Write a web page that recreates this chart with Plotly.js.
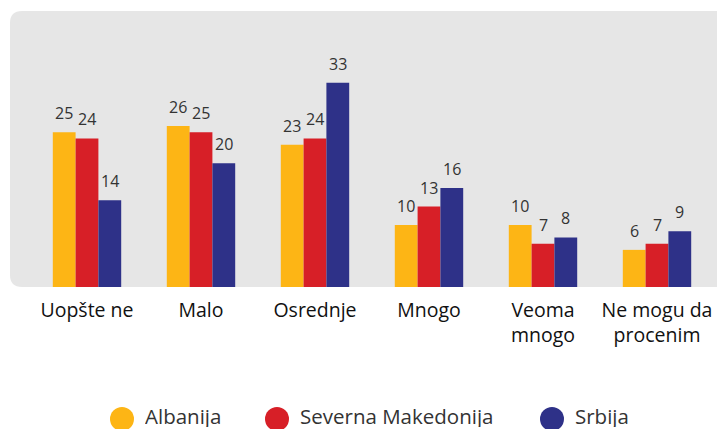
<!DOCTYPE html>
<html>
<head>
<meta charset="utf-8">
<script src="https://cdn.plot.ly/plotly-3.0.1.min.js"></script>
<style>html,body{margin:0;padding:0;background:#fff;}#chart{width:717px;height:429px;}</style>
</head>
<body>
<div id="chart"></div>
<script>
const categories = ["Uopšte ne", "Malo", "Osrednje", "Mnogo", "Veoma<br>mnogo", "Ne mogu da<br>procenim"];
const seriesNames = ["Albanija", "Severna Makedonija", "Srbija"];
const albanija = [25, 26, 23, 10, 10, 6];
const severnaMakedonija = [24, 25, 24, 13, 7, 7];
const srbija = [14, 20, 33, 16, 8, 9];
const colors = ["#FDB515", "#D71F27", "#2E3188"];

const FONT = "Open Sans, Lato, sans-serif";
const values = [albanija, severnaMakedonija, srbija];

const traces = values.map((v, i) => ({
  type: "bar",
  name: seriesNames[i],
  x: categories,
  y: v,
  marker: {color: colors[i]},
  showlegend: false,
  hoverinfo: "x+y+name"
}));

// Plot area in px: x 30..714, y 11..287
const pw = 684, ph = 276;
const barPx = pw / 6 * 0.6 / 3;
const x0 = -20 / pw, rx = 12 / pw, ry = 12 / ph;
const bgPath = `M ${x0 + rx},1 L 1.05,1 L 1.05,0 L ${x0 + rx},0 Q ${x0},0 ${x0},${ry} L ${x0},${1 - ry} Q ${x0},1 ${x0 + rx},1 Z`;

const shapes = [{
  type: "path", xref: "paper", yref: "paper", path: bgPath,
  fillcolor: "#E6E6E6", line: {width: 0}, layer: "below"
}];

const annotations = [];
// value labels above bars, anchored to the data via the axes
values.forEach((v, i) => {
  v.forEach((val, j) => {
    annotations.push({
      xref: "x", yref: "y", x: categories[j], y: val,
      xshift: (i - 1) * barPx, yshift: 6,
      xanchor: "center", yanchor: "bottom",
      text: String(val), showarrow: false,
      font: {family: FONT, size: 16, color: "#333333"}
    });
  });
});

// custom legend (circles + labels)
const legendX = [122, 277, 552]; // circle centres in px
const legendY = 416;
seriesNames.forEach((n, i) => {
  const cx = (legendX[i] - 30) / pw;
  const cy = (287 - legendY) / ph;
  shapes.push({
    type: "circle", xref: "paper", yref: "paper",
    xsizemode: "pixel", ysizemode: "pixel",
    xanchor: cx, yanchor: (287 - 419) / ph,
    x0: -12, x1: 12, y0: -12, y1: 12,
    fillcolor: colors[i], line: {width: 0}
  });
  annotations.push({
    xref: "paper", yref: "paper",
    x: (legendX[i] + 21 - 30) / pw, y: cy,
    xanchor: "left", yanchor: "middle",
    height: 22, valign: "middle",
    text: n, showarrow: false,
    font: {family: FONT, size: 20.5, color: "#333333"}
  });
});

const layout = {
  width: 717, height: 429,
  margin: {l: 30, r: 3, t: 11, b: 142},
  paper_bgcolor: "#ffffff",
  plot_bgcolor: "rgba(0,0,0,0)",
  barmode: "group",
  bargap: 0.4,
  bargroupgap: 0,
  font: {family: FONT, color: "#111111"},
  xaxis: {
    type: "category",
    range: [-0.5, 5.5],
    showgrid: false, zeroline: false, showline: false,
    ticks: "",
    ticklabelstandoff: 9,
    tickfont: {family: FONT, size: 19.5, color: "#111111"},
    fixedrange: true
  },
  yaxis: {
    range: [0, 44.6],
    visible: false,
    showgrid: false, zeroline: false,
    fixedrange: true
  },
  shapes: shapes,
  annotations: annotations,
  showlegend: false
};

Plotly.newPlot("chart", traces, layout, {displayModeBar: false, staticPlot: true});
</script>
</body>
</html>
